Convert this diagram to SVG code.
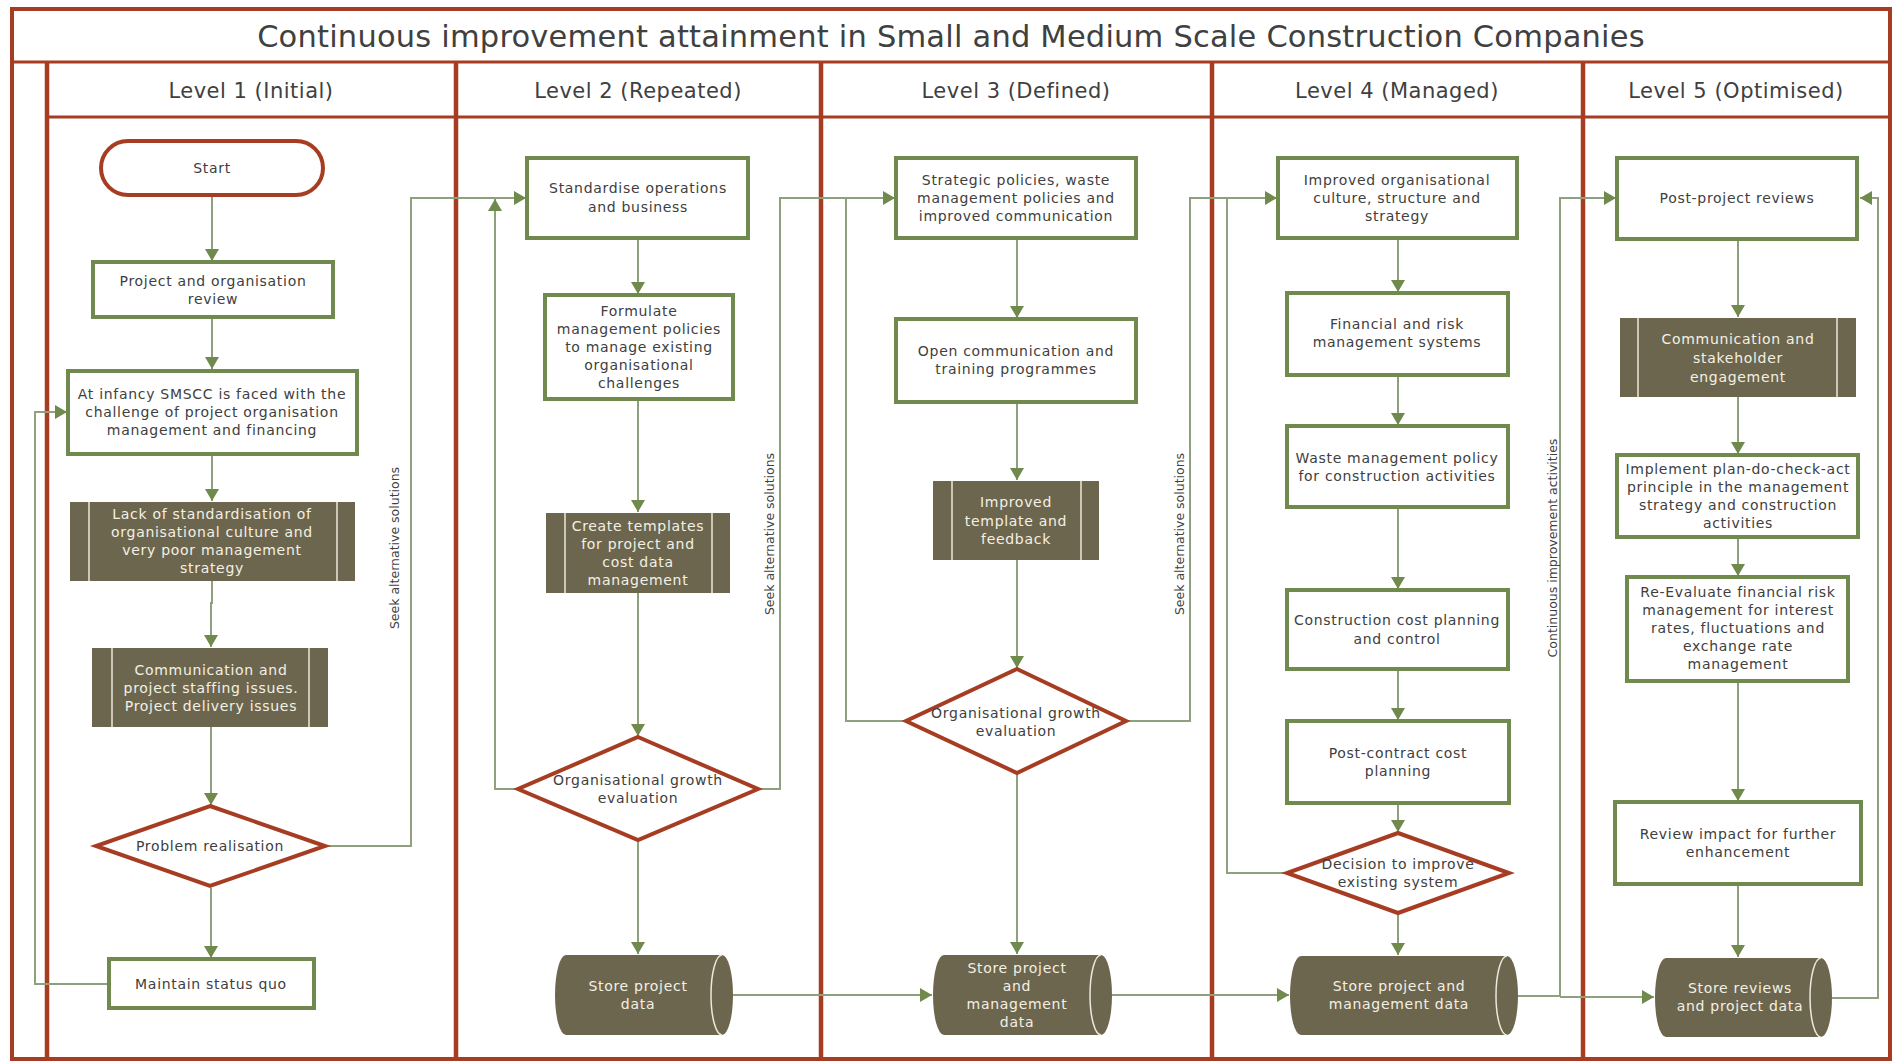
<svg xmlns="http://www.w3.org/2000/svg" width="1892" height="1061" viewBox="0 0 1892 1061">
<style>
.lane{stroke:#A63D22;fill:none}
.box{fill:#fff;stroke:#6F8A4C;stroke-width:4}
.dark{fill:#6D664E}
.dl{stroke:#ECE8DA;stroke-width:1.5;fill:none}
.dia{fill:#fff;stroke:#A63D22;stroke-width:4}
.t{font-family:"DejaVu Sans",sans-serif;font-size:14px;fill:#404040;text-anchor:middle;dominant-baseline:central;letter-spacing:0.7px}
.tw{fill:#F3F0E4}
.hd{font-family:"DejaVu Sans",sans-serif;font-size:21px;fill:#404040;text-anchor:middle;letter-spacing:0.5px}
.rot{font-family:"DejaVu Sans",sans-serif;font-size:12.5px;fill:#404040;text-anchor:middle}
.conn{stroke:#8FA07F;stroke-width:2;fill:none}
.arr{marker-end:url(#ah)}
</style>
<defs>
<marker id="ah" markerWidth="14" markerHeight="14" refX="12" refY="7" orient="auto" markerUnits="userSpaceOnUse"><path d="M0,0 L12,7 L0,14 Z" fill="#6F8A4C"/></marker>
</defs>
<rect width="1892" height="1061" fill="#fff"/>
<g id="frame">
<rect class="lane" x="12" y="9" width="1878" height="1050" stroke-width="4"/>
<line class="lane" x1="12" y1="62" x2="1890" y2="62" stroke-width="3"/>
<line class="lane" x1="47" y1="117" x2="1890" y2="117" stroke-width="3"/>
<line class="lane" x1="47" y1="62" x2="47" y2="1061" stroke-width="4.5"/>
<line class="lane" x1="456" y1="62" x2="456" y2="1061" stroke-width="4.5"/>
<line class="lane" x1="821" y1="62" x2="821" y2="1061" stroke-width="4.5"/>
<line class="lane" x1="1212" y1="62" x2="1212" y2="1061" stroke-width="4.5"/>
<line class="lane" x1="1583" y1="62" x2="1583" y2="1061" stroke-width="4.5"/>
<text x="951" y="47" font-family="DejaVu Sans, sans-serif" font-size="30.5" fill="#404040" text-anchor="middle" letter-spacing="0.2">Continuous improvement attainment in Small and Medium Scale Construction Companies</text>
<text class="hd" x="251" y="98">Level 1 (Initial)</text>
<text class="hd" x="638" y="98">Level 2 (Repeated)</text>
<text class="hd" x="1016" y="98">Level 3 (Defined)</text>
<text class="hd" x="1397" y="98">Level 4 (Managed)</text>
<text class="hd" x="1736" y="98">Level 5 (Optimised)</text>
</g>
<g id="connectors">
<path class="conn arr" d="M212,197 V261"/>
<path class="conn arr" d="M212,319 V369"/>
<path class="conn arr" d="M212,456 V501"/>
<path class="conn arr" d="M212,581 V603 H211 V647"/>
<path class="conn arr" d="M211,727 V805"/>
<path class="conn arr" d="M211,888 V958"/>
<path class="conn arr" d="M107,984 H35 V412 H67"/>
<path class="conn arr" d="M327,846 H411 V198 H526"/>
<text class="rot" transform="translate(399,548) rotate(-90)">Seek alternative solutions</text>
<path class="conn arr" d="M638,240 V294"/>
<path class="conn arr" d="M638,401 V512"/>
<path class="conn arr" d="M638,593 V736"/>
<path class="conn arr" d="M516,789 H495 V199"/>
<path class="conn arr" d="M760,789 H780 V198 H895"/>
<text class="rot" transform="translate(774,534) rotate(-90)">Seek alternative solutions</text>
<path class="conn arr" d="M638,842 V954"/>
<path class="conn arr" d="M733,995 H932"/>
<path class="conn arr" d="M1017,240 V318"/>
<path class="conn arr" d="M1017,404 V480"/>
<path class="conn arr" d="M1017,560 V668"/>
<path class="conn" d="M904,721 H846 V198"/>
<path class="conn arr" d="M1128,721 H1190 V198 H1277"/>
<text class="rot" transform="translate(1184,534) rotate(-90)">Seek alternative solutions</text>
<path class="conn arr" d="M1017,775 V954"/>
<path class="conn arr" d="M1112,995 H1289"/>
<path class="conn arr" d="M1398,240 V292"/>
<path class="conn arr" d="M1398,377 V425"/>
<path class="conn arr" d="M1398,509 V589"/>
<path class="conn arr" d="M1398,671 V720"/>
<path class="conn arr" d="M1398,805 V832"/>
<path class="conn" d="M1285,873 H1227 V198"/>
<path class="conn arr" d="M1398,915 V955"/>
<path class="conn arr" d="M1518,996 H1560 V198 H1616"/>
<path class="conn arr" d="M1560,997 H1654"/>
<text class="rot" transform="translate(1557,548) rotate(-90)">Continuous improvement activities</text>
<path class="conn arr" d="M1738,241 V317"/>
<path class="conn arr" d="M1738,397 V454"/>
<path class="conn arr" d="M1738,539 V576"/>
<path class="conn arr" d="M1738,683 V801"/>
<path class="conn arr" d="M1738,886 V957"/>
<path class="conn arr" d="M1832,998 H1878 V198 H1860"/>
</g>
<g id="start">
<rect x="101" y="141" width="222" height="54" rx="27" fill="#fff" stroke="#A63D22" stroke-width="4"/>
<text class="t" x="212" y="168">Start</text>
</g>
<g id="project-review">
<rect class="box" x="93" y="262" width="240" height="55"/>
<text class="t" x="213"><tspan x="213" y="281">Project and organisation</tspan><tspan x="213" y="299">review</tspan></text>
</g>
<g id="infancy">
<rect class="box" x="68" y="371" width="289" height="83"/>
<text class="t"><tspan x="212" y="394">At infancy SMSCC is faced with the</tspan><tspan x="212" y="412">challenge of project organisation</tspan><tspan x="212" y="430">management and financing</tspan></text>
</g>
<g id="lack">
<rect class="dark" x="70" y="502" width="285" height="79"/>
<path class="dl" d="M89,502 V581 M337,502 V581"/>
<text class="t tw"><tspan x="212" y="514">Lack of standardisation of</tspan><tspan x="212" y="532">organisational culture and</tspan><tspan x="212" y="550">very poor management</tspan><tspan x="212" y="568">strategy</tspan></text>
</g>
<g id="comm-staffing">
<rect class="dark" x="92" y="648" width="236" height="79"/>
<path class="dl" d="M112,648 V727 M309,648 V727"/>
<text class="t tw"><tspan x="211" y="670">Communication and</tspan><tspan x="211" y="688">project staffing issues.</tspan><tspan x="211" y="706">Project delivery issues</tspan></text>
</g>
<g id="problem">
<path class="dia" d="M210,806 L325,846 L210,886 L96,846 Z"/>
<text class="t" x="210" y="846">Problem realisation</text>
</g>
<g id="status-quo">
<rect class="box" x="109" y="959" width="205" height="49"/>
<text class="t" x="211" y="984">Maintain status quo</text>
</g>
<g id="standardise">
<rect class="box" x="527" y="158" width="221" height="80"/>
<text class="t"><tspan x="638" y="188">Standardise operations</tspan><tspan x="638" y="207">and business</tspan></text>
</g>
<g id="formulate">
<rect class="box" x="545" y="295" width="188" height="104"/>
<text class="t"><tspan x="639" y="311">Formulate</tspan><tspan x="639" y="329">management policies</tspan><tspan x="639" y="347">to manage existing</tspan><tspan x="639" y="365">organisational</tspan><tspan x="639" y="383">challenges</tspan></text>
</g>
<g id="templates">
<rect class="dark" x="546" y="513" width="184" height="80"/>
<path class="dl" d="M565,513 V593 M712,513 V593"/>
<text class="t tw"><tspan x="638" y="526">Create templates</tspan><tspan x="638" y="544">for project and</tspan><tspan x="638" y="562">cost data</tspan><tspan x="638" y="580">management</tspan></text>
</g>
<g id="growth-2">
<path class="dia" d="M638,737 L758,789 L638,840 L518,789 Z"/>
<text class="t"><tspan x="638" y="780">Organisational growth</tspan><tspan x="638" y="798">evaluation</tspan></text>
</g>
<g id="store-2">
<path class="dark" d="M566,955 H722 A11,40 0 0 1 722,1035 H566 A11,40 0 0 1 566,955 Z"/>
<path class="dl" d="M722,955 A11,40 0 0 0 722,1035"/>
<text class="t tw"><tspan x="638" y="986">Store project</tspan><tspan x="638" y="1004">data</tspan></text>
</g>
<g id="strategic">
<rect class="box" x="896" y="158" width="240" height="80"/>
<text class="t"><tspan x="1016" y="180">Strategic policies, waste</tspan><tspan x="1016" y="198">management policies and</tspan><tspan x="1016" y="216">improved communication</tspan></text>
</g>
<g id="open-comm">
<rect class="box" x="896" y="319" width="240" height="83"/>
<text class="t"><tspan x="1016" y="351">Open communication and</tspan><tspan x="1016" y="369">training programmes</tspan></text>
</g>
<g id="improved-template">
<rect class="dark" x="933" y="481" width="166" height="79"/>
<path class="dl" d="M952,481 V560 M1081,481 V560"/>
<text class="t tw"><tspan x="1016" y="502">Improved</tspan><tspan x="1016" y="521">template and</tspan><tspan x="1016" y="539">feedback</tspan></text>
</g>
<g id="growth-3">
<path class="dia" d="M1017,669 L1126,721 L1017,773 L906,721 Z"/>
<text class="t"><tspan x="1016" y="713">Organisational growth</tspan><tspan x="1016" y="731">evaluation</tspan></text>
</g>
<g id="store-3">
<path class="dark" d="M944,955 H1101 A11,40 0 0 1 1101,1035 H944 A11,40 0 0 1 944,955 Z"/>
<path class="dl" d="M1101,955 A11,40 0 0 0 1101,1035"/>
<text class="t tw"><tspan x="1017" y="968">Store project</tspan><tspan x="1017" y="986">and</tspan><tspan x="1017" y="1004">management</tspan><tspan x="1017" y="1022">data</tspan></text>
</g>
<g id="improved-culture">
<rect class="box" x="1278" y="158" width="239" height="80"/>
<text class="t"><tspan x="1397" y="180">Improved organisational</tspan><tspan x="1397" y="198">culture, structure and</tspan><tspan x="1397" y="216">strategy</tspan></text>
</g>
<g id="financial">
<rect class="box" x="1287" y="293" width="221" height="82"/>
<text class="t"><tspan x="1397" y="324">Financial and risk</tspan><tspan x="1397" y="342">management systems</tspan></text>
</g>
<g id="waste">
<rect class="box" x="1287" y="426" width="221" height="81"/>
<text class="t"><tspan x="1397" y="458">Waste management policy</tspan><tspan x="1397" y="476">for construction activities</tspan></text>
</g>
<g id="construction-cost">
<rect class="box" x="1287" y="590" width="221" height="79"/>
<text class="t"><tspan x="1397" y="620">Construction cost planning</tspan><tspan x="1397" y="639">and control</tspan></text>
</g>
<g id="post-contract">
<rect class="box" x="1287" y="721" width="222" height="82"/>
<text class="t"><tspan x="1398" y="753">Post-contract cost</tspan><tspan x="1398" y="771">planning</tspan></text>
</g>
<g id="decision">
<path class="dia" d="M1398,833 L1509,873 L1398,913 L1287,873 Z"/>
<text class="t"><tspan x="1398" y="864">Decision to improve</tspan><tspan x="1398" y="882">existing system</tspan></text>
</g>
<g id="store-4">
<path class="dark" d="M1301,956 H1507 A11,39.5 0 0 1 1507,1035 H1301 A11,39.5 0 0 1 1301,956 Z"/>
<path class="dl" d="M1507,956 A11,39.5 0 0 0 1507,1035"/>
<text class="t tw"><tspan x="1399" y="986">Store project and</tspan><tspan x="1399" y="1004">management data</tspan></text>
</g>
<g id="post-project">
<rect class="box" x="1617" y="158" width="240" height="81"/>
<text class="t" x="1737" y="198">Post-project reviews</text>
</g>
<g id="stakeholder">
<rect class="dark" x="1620" y="318" width="236" height="79"/>
<path class="dl" d="M1638,318 V397 M1837,318 V397"/>
<text class="t tw"><tspan x="1738" y="339">Communication and</tspan><tspan x="1738" y="358">stakeholder</tspan><tspan x="1738" y="377">engagement</tspan></text>
</g>
<g id="pdca">
<rect class="box" x="1617" y="455" width="241" height="82"/>
<text class="t"><tspan x="1738" y="469">Implement plan-do-check-act</tspan><tspan x="1738" y="487">principle in the management</tspan><tspan x="1738" y="505">strategy and construction</tspan><tspan x="1738" y="523">activities</tspan></text>
</g>
<g id="re-evaluate">
<rect class="box" x="1627" y="577" width="221" height="104"/>
<text class="t"><tspan x="1738" y="592">Re-Evaluate financial risk</tspan><tspan x="1738" y="610">management for interest</tspan><tspan x="1738" y="628">rates, fluctuations and</tspan><tspan x="1738" y="646">exchange rate</tspan><tspan x="1738" y="664">management</tspan></text>
</g>
<g id="review-impact">
<rect class="box" x="1615" y="802" width="246" height="82"/>
<text class="t"><tspan x="1738" y="834">Review impact for further</tspan><tspan x="1738" y="852">enhancement</tspan></text>
</g>
<g id="store-5">
<path class="dark" d="M1666,958 H1821 A11,39.5 0 0 1 1821,1037 H1666 A11,39.5 0 0 1 1666,958 Z"/>
<path class="dl" d="M1821,958 A11,39.5 0 0 0 1821,1037"/>
<text class="t tw"><tspan x="1740" y="988">Store reviews</tspan><tspan x="1740" y="1006">and project data</tspan></text>
</g>
</svg>
